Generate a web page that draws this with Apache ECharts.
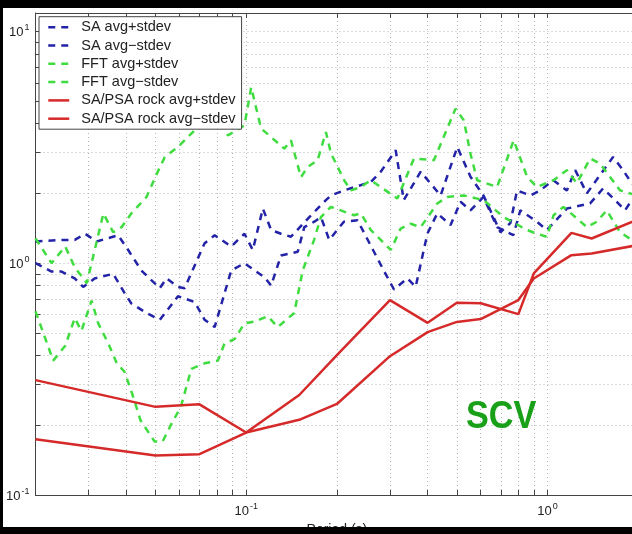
<!DOCTYPE html>
<html>
<head>
<meta charset="utf-8">
<script src="https://cdn.jsdelivr.net/npm/echarts@6/dist/echarts.min.js"></script>
<style>
  html, body { margin: 0; padding: 0; background: #000; width: 632px; height: 534px; overflow: hidden; }
  #chart { position: absolute; left: 3px; top: 8px; width: 629px; height: 519px; }
</style>
</head>
<body>
<div id="chart"></div>
<script>
// SA avg+stdev
var saUpperPeriod = [0.02, 0.0244, 0.027, 0.0292, 0.0319, 0.0376, 0.0406, 0.0449, 0.0517, 0.0544, 0.0594, 0.0625, 0.0728, 0.0786, 0.0892, 0.0987, 0.1052, 0.1136, 0.121, 0.1305, 0.1408, 0.162, 0.1839, 0.1911, 0.211, 0.2592, 0.2796, 0.3134, 0.3333, 0.3793, 0.4417, 0.5017, 0.5549, 0.6128, 0.6976, 0.7526, 0.792, 0.8766, 0.9461, 1.0445, 1.159, 1.235, 1.35, 1.649, 1.78, 1.902, 2.0];
var saUpperValue = [1.24, 1.26, 1.26, 1.34, 1.24, 1.32, 1.14, 0.93, 0.78, 0.86, 0.79, 0.78, 1.22, 1.32, 1.18, 1.34, 1.14, 1.72, 1.39, 1.34, 1.30, 1.58, 1.87, 1.96, 2.06, 2.24, 2.48, 3.07, 1.87, 2.48, 1.96, 3.17, 2.36, 1.96, 1.36, 1.49, 2.06, 1.96, 2.06, 2.28, 2.06, 2.52, 2.0, 2.87, 2.52, 2.21, 2.1];
// SA avg-stdev
var saLowerPeriod = [0.02, 0.0226, 0.0244, 0.027, 0.0288, 0.0315, 0.0362, 0.0396, 0.0416, 0.0467, 0.0517, 0.0594, 0.0675, 0.0728, 0.0786, 0.0892, 0.0987, 0.115, 0.121, 0.1305, 0.1483, 0.1559, 0.1683, 0.1771, 0.1886, 0.211, 0.2342, 0.2861, 0.3094, 0.3426, 0.365, 0.3992, 0.4306, 0.4766, 0.5144, 0.5549, 0.6128, 0.68, 0.77, 0.812, 0.922, 0.995, 1.159, 1.384, 1.528, 1.675, 1.807, 1.902, 2.0];
var saLowerValue = [1.0, 0.92, 0.92, 0.86, 0.79, 0.86, 0.90, 0.74, 0.67, 0.61, 0.57, 0.72, 0.68, 0.57, 0.53, 0.93, 1.0, 0.87, 0.80, 1.08, 1.12, 1.43, 1.51, 1.58, 1.26, 1.51, 1.53, 0.93, 0.77, 0.86, 0.79, 1.34, 1.64, 1.46, 1.84, 1.69, 1.93, 1.43, 1.32, 1.69, 1.51, 1.39, 1.72, 1.81, 2.10, 1.87, 1.69, 1.87, 1.8];
// FFT avg+stdev
var fftUpperPeriod = [0.02, 0.0226, 0.0251, 0.027, 0.0296, 0.0336, 0.0362, 0.0386, 0.0416, 0.0467, 0.0506, 0.0537, 0.0594, 0.0692, 0.0766, 0.0837, 0.087, 0.0987, 0.1039, 0.1121, 0.121, 0.1338, 0.1408, 0.152, 0.16, 0.1726, 0.1839, 0.1911, 0.2114, 0.2225, 0.2401, 0.2592, 0.3175, 0.3603, 0.4196, 0.4951, 0.5274, 0.5549, 0.584, 0.68, 0.772, 0.855, 0.922, 1.047, 1.159, 1.251, 1.384, 1.494, 1.74, 1.877, 2.0];
var fftUpperValue = [1.28, 1.0, 1.18, 0.96, 0.82, 1.64, 1.36, 1.43, 1.64, 1.93, 2.44, 2.87, 3.17, 3.87, 4.22, 3.93, 3.56, 3.93, 5.74, 3.81, 3.50, 3.12, 3.39, 2.35, 2.60, 2.78, 3.68, 2.98, 2.28, 2.06, 2.13, 2.28, 1.90, 2.83, 2.78, 4.64, 4.13, 2.97, 2.28, 2.13, 3.39, 2.36, 2.13, 2.28, 2.52, 2.21, 2.83, 2.69, 2.06, 2.0, 1.95];
// FFT avg-stdev
var fftLowerPeriod = [0.02, 0.0229, 0.0251, 0.027, 0.0284, 0.0307, 0.0323, 0.0349, 0.0372, 0.0395, 0.042, 0.0446, 0.0497, 0.0528, 0.0562, 0.0607, 0.0658, 0.0728, 0.0806, 0.0847, 0.0915, 0.0987, 0.1065, 0.118, 0.1273, 0.1444, 0.154, 0.168, 0.177, 0.191, 0.2282, 0.2401, 0.2592, 0.2796, 0.3018, 0.3256, 0.3513, 0.3793, 0.4306, 0.4648, 0.5274, 0.6142, 0.715, 0.855, 0.922, 0.995, 1.047, 1.129, 1.35, 1.457, 1.572, 1.74, 1.902, 2.0];
var fftLowerValue = [0.62, 0.38, 0.44, 0.58, 0.51, 0.69, 0.55, 0.45, 0.37, 0.34, 0.27, 0.21, 0.17, 0.17, 0.20, 0.24, 0.35, 0.37, 0.38, 0.45, 0.47, 0.55, 0.56, 0.59, 0.53, 0.61, 0.93, 1.26, 1.58, 1.75, 1.61, 1.64, 1.39, 1.26, 1.14, 1.41, 1.48, 1.43, 1.81, 1.93, 1.96, 1.87, 1.58, 1.39, 1.34, 1.30, 1.61, 1.75, 1.43, 1.51, 1.69, 1.36, 1.26, 1.2];
// SA/PSA rock
var rockPeriod = [0.02, 0.05, 0.07, 0.1, 0.15, 0.2, 0.3, 0.4, 0.5, 0.6, 0.8, 0.9, 1.2, 1.4, 2.0];
var rockUpperValue = [0.313, 0.240, 0.246, 0.186, 0.270, 0.401, 0.693, 0.553, 0.675, 0.672, 0.603, 0.903, 1.351, 1.278, 1.548];
var rockLowerValue = [0.174, 0.148, 0.150, 0.186, 0.211, 0.247, 0.397, 0.504, 0.558, 0.574, 0.693, 0.859, 1.083, 1.101, 1.198];

// ticks / grid lines (matlab style: every 1..9 x 10^k)
var xTickValues = [0.02, 0.03, 0.04, 0.05, 0.06, 0.07, 0.08, 0.09, 0.1, 0.2, 0.3, 0.4, 0.5, 0.6, 0.7, 0.8, 0.9, 1, 2];
var xLabelValues = [0.1, 1];
var yTickValues = [0.1, 0.2, 0.3, 0.4, 0.5, 0.6, 0.7, 0.8, 0.9, 1, 2, 3, 4, 5, 6, 7, 8, 9, 10];
var yLabelValues = [0.1, 1, 10];

var FONT = '"Liberation Sans", Arial, Helvetica, sans-serif';

function pairs(p, v) {
  var out = [];
  for (var i = 0; i < p.length; i++) out.push([p[i], v[i]]);
  return out;
}

function powLabel(val) {
  var e = Math.round(Math.log10(val));
  if (Math.abs(Math.log10(val) - e) > 1e-6) return '';
  return '{b|10}{s|' + e + '}';
}

var labelRich = {
  b: { fontSize: 13, color: '#222', fontFamily: FONT, verticalAlign: 'bottom' },
  s: { fontSize: 9, color: '#222', fontFamily: FONT, verticalAlign: 'bottom', padding: [0, 0, 7, 1] }
};

var gridLine = { show: true, lineStyle: { color: '#b4b4b4', width: 1, type: [1, 3] } };
var axisCol = '#444';
var DASH = [7, 6];

function dashed(name, color, p, v) {
  return {
    name: name, type: 'line', symbol: 'none', showSymbol: false,
    data: pairs(p, v),
    lineStyle: { color: color, width: 2.5, type: DASH },
    itemStyle: { color: color },
    z: 3
  };
}
function solid(name, color, p, v) {
  return {
    name: name, type: 'line', symbol: 'none', showSymbol: false,
    data: pairs(p, v),
    lineStyle: { color: color, width: 2.5, type: 'solid' },
    itemStyle: { color: color },
    z: 4
  };
}

var blue = '#2323a8', green = '#3fdc3f', red = '#d62a2a';

var names = ['SA avg+stdev', 'SA avg\u2212stdev', 'FFT avg+stdev', 'FFT avg\u2212stdev', 'SA/PSA rock avg+stdev', 'SA/PSA rock avg\u2212stdev'];

var option = {
  backgroundColor: '#fff',
  animation: false,
  grid: {
    left: 32.5, top: 5, right: -6.3, bottom: 32,
    show: false,
    outerBoundsMode: 'none'
  },
  legend: {
    orient: 'vertical',
    left: 36, top: 8.7,
    padding: [3, 6, 3, 8],
    itemWidth: 21, itemHeight: 14, itemGap: 3.3,
    selectedMode: false,
    backgroundColor: '#fff',
    borderColor: '#444', borderWidth: 1,
    itemStyle: { opacity: 0 },
    textStyle: { fontSize: 14.5, lineHeight: 14, color: '#222', fontFamily: FONT, padding: [0, 0, 0, 7] },
    data: [
      { name: names[0], lineStyle: { type: DASH, width: 2.5 } },
      { name: names[1], lineStyle: { type: DASH, width: 2.5 } },
      { name: names[2], lineStyle: { type: DASH, width: 2.5 } },
      { name: names[3], lineStyle: { type: DASH, width: 2.5 } },
      { name: names[4], lineStyle: { type: 'solid', width: 2.5 } },
      { name: names[5], lineStyle: { type: 'solid', width: 2.5 } }
    ]
  },
  xAxis: [{
    type: 'log', logBase: 10, min: 0.02, max: 2,
    axisLine: { show: true, onZero: false, lineStyle: { color: axisCol, width: 1 } },
    axisTick: { show: true, inside: true, length: 5, lineStyle: { color: axisCol }, customValues: xTickValues },
    axisLabel: { customValues: xLabelValues, formatter: powLabel, rich: labelRich, margin: 7 },
    splitLine: gridLine,
    name: 'Period (s)', nameLocation: 'middle', nameGap: 22,
    nameTextStyle: { fontSize: 14, color: '#222', fontFamily: FONT }
  }, {
    type: 'log', logBase: 10, min: 0.02, max: 2, position: 'top',
    axisLine: { show: true, onZero: false, lineStyle: { color: axisCol, width: 1 } },
    axisTick: { show: true, inside: true, length: 5, lineStyle: { color: axisCol }, customValues: xTickValues },
    axisLabel: { show: false },
    splitLine: { show: false }
  }],
  yAxis: [{
    type: 'log', logBase: 10, min: 0.1, max: 12,
    axisLine: { show: true, onZero: false, lineStyle: { color: axisCol, width: 1 } },
    axisTick: { show: true, inside: true, length: 5, lineStyle: { color: axisCol }, customValues: yTickValues },
    axisLabel: { customValues: yLabelValues, formatter: powLabel, rich: labelRich, margin: 6 },
    splitLine: gridLine
  }],
  graphic: [{
    type: 'text', x: 463, y: 410, scaleX: 0.9,
    style: { text: 'SCV', font: 'bold 38px "Liberation Sans", Arial, sans-serif', fill: '#18a018', verticalAlign: 'middle' },
    z: 10
  }],
  series: [
    dashed(names[0], blue, saUpperPeriod, saUpperValue),
    dashed(names[1], blue, saLowerPeriod, saLowerValue),
    dashed(names[2], green, fftUpperPeriod, fftUpperValue),
    dashed(names[3], green, fftLowerPeriod, fftLowerValue),
    solid(names[4], red, rockPeriod, rockUpperValue),
    solid(names[5], red, rockPeriod, rockLowerValue)
  ]
};

var chart = echarts.init(document.getElementById('chart'));
chart.setOption(option);
window.addEventListener('resize', function () { chart.resize(); });
</script>
</body>
</html>
